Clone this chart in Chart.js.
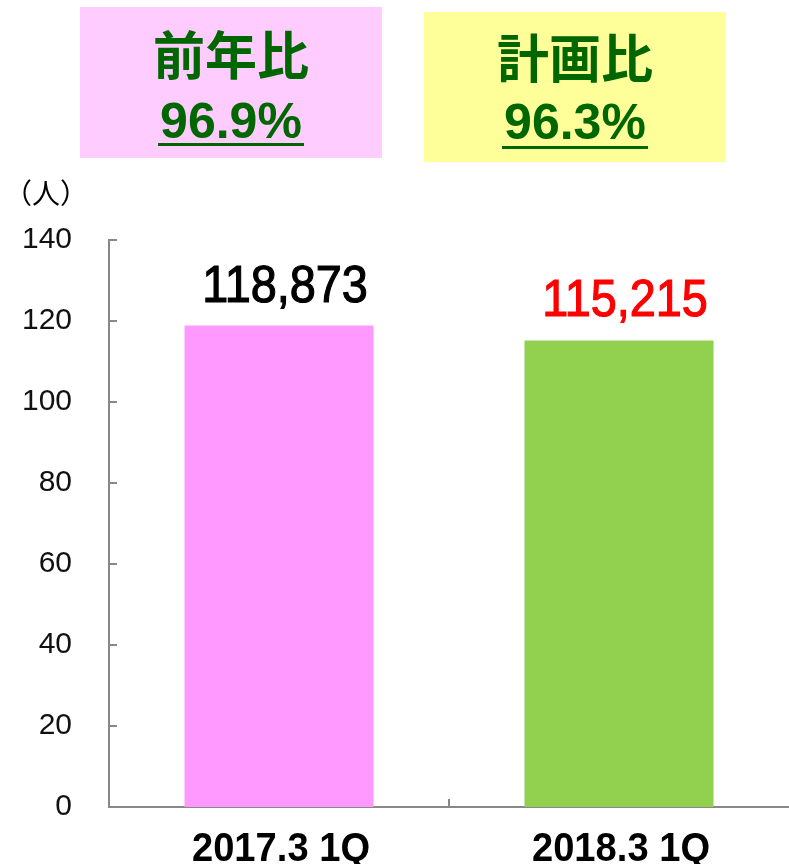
<!DOCTYPE html>
<html lang="ja">
<head>
    <meta charset="UTF-8">
    <title>前年比・計画比</title>
    <script src="https://cdn.jsdelivr.net/npm/chart.js"></script>
    <style>
        body { margin: 0; background: #fff; }
        .wrap { position: relative; width: 789px; height: 864px; overflow: hidden; }
        .box { position: absolute; width: 302px; color: #006600; text-align: center; }
        .box .ttl { position: absolute; left: 0; width: 100%; font: bold 52px "Noto Sans CJK JP", sans-serif; line-height: 52px; }
        .box .pct { position: absolute; left: 0; width: 100%; font: bold 50px "Liberation Sans", Arial, sans-serif; line-height: 50px; }
        .box .ul { position: absolute; height: 3px; background: #006600; }
        #unit { position: absolute; left: 4px; top: 172px; font: 28px "Noto Sans CJK JP", sans-serif; color: #000; }
        #chartBox { position: absolute; left: 0; top: 0; width: 789px; height: 864px; }
    </style>
</head>
<body>
<div class="wrap">
    <div id="chartBox"><canvas id="visitorsChart"></canvas></div>

    <!-- 前年比 / 計画比 の枠 -->
    <div class="box" style="left:80px; top:7px; height:151px; background:#FFCCFF;">
        <div class="ttl" style="top:20px;">前年比</div>
        <div class="pct" style="top:89px;">96.9%</div>
        <div class="ul" style="left:78px; width:146px; top:136px;"></div>
    </div>
    <div class="box" style="left:424px; top:12px; height:150px; background:#FFFF99;">
        <div class="ttl" style="top:18px;">計画比</div>
        <div class="pct" style="top:85px;">96.3%</div>
        <div class="ul" style="left:78px; width:146px; top:134px;"></div>
    </div>

    <div id="unit">（人）</div>
</div>

<script>
    // データ
    const categories = ['2017.3 1Q', '2018.3 1Q'];
    const visitors = [118873, 115215];
    const barColors = ['#FF99FF', '#92D050'];
    const labelColors = ['#000000', '#FF0000'];

    const axisGray = '#888888';

    // 目盛りを内側に描く + 値ラベル + カテゴリ名（細め）
    const extrasPlugin = {
        id: 'extras',
        afterDraw(chart) {
            const ctx = chart.ctx;
            const area = chart.chartArea;
            const y = chart.scales.y;
            const x = chart.scales.x;
            ctx.save();
            ctx.strokeStyle = axisGray;
            ctx.lineWidth = 2;
            y.ticks.forEach(t => {
                if (t.value === 0) return;
                const py = Math.round(y.getPixelForValue(t.value));
                ctx.beginPath();
                ctx.moveTo(area.left, py);
                ctx.lineTo(area.left + 8, py);
                ctx.stroke();
            });
            // カテゴリ境界の目盛り
            for (let i = 1; i < categories.length; i++) {
                const px = (x.getPixelForValue(i - 1) + x.getPixelForValue(i)) / 2;
                ctx.beginPath();
                ctx.moveTo(px, area.bottom);
                ctx.lineTo(px, area.bottom - 8);
                ctx.stroke();
            }
            ctx.restore();

            // カテゴリ名
            ctx.save();
            ctx.font = 'bold 41px "Liberation Sans", Arial, sans-serif';
            ctx.textAlign = 'center';
            ctx.textBaseline = 'alphabetic';
            ctx.fillStyle = '#000';
            categories.forEach((c, i) => {
                ctx.save();
                ctx.translate(x.getPixelForValue(i) + 2, area.bottom + 54);
                ctx.scale(0.93, 1);
                ctx.fillText(c, 0, 0);
                ctx.restore();
            });
            ctx.restore();

            // 値ラベル
            const meta = chart.getDatasetMeta(0);
            ctx.save();
            ctx.font = '52px "Liberation Sans", Arial, sans-serif';
            ctx.textAlign = 'center';
            ctx.textBaseline = 'alphabetic';
            ctx.lineWidth = 1.2;
            meta.data.forEach((bar, i) => {
                ctx.save();
                ctx.fillStyle = labelColors[i];
                ctx.strokeStyle = labelColors[i];
                ctx.translate(bar.x + 6, bar.y - 24);
                ctx.scale(0.9, 1);
                const txt = visitors[i].toLocaleString('en-US');
                ctx.fillText(txt, 0, 0);
                ctx.strokeText(txt, 0, 0);
                ctx.restore();
            });
            ctx.restore();
        }
    };

    const ctx = document.getElementById('visitorsChart').getContext('2d');
    new Chart(ctx, {
        type: 'bar',
        data: {
            labels: categories,
            datasets: [{
                data: visitors,
                backgroundColor: barColors,
                borderWidth: 0,
                categoryPercentage: 1,
                barPercentage: 0.556
            }]
        },
        options: {
            responsive: true,
            maintainAspectRatio: false,
            animation: false,
            layout: { padding: { top: 240, right: 0, left: 0, bottom: 0 } },
            plugins: {
                legend: { display: false },
                tooltip: { enabled: false }
            },
            scales: {
                x: {
                    grid: { display: false, drawTicks: false },
                    border: { display: true, color: axisGray, width: 2 },
                    ticks: { display: false },
                    afterFit(scale) { scale.height = 57; }
                },
                y: {
                    min: 0,
                    max: 140000,
                    grid: { display: false, drawTicks: false },
                    border: { display: true, color: axisGray, width: 2 },
                    ticks: {
                        stepSize: 20000,
                        color: '#111',
                        padding: 37,
                        font: { family: '"Liberation Sans", Arial, sans-serif', size: 30 },
                        callback: v => v / 1000
                    },
                    afterFit(scale) { scale.width = 109; }
                }
            }
        },
        plugins: [extrasPlugin]
    });
</script>
</body>
</html>
